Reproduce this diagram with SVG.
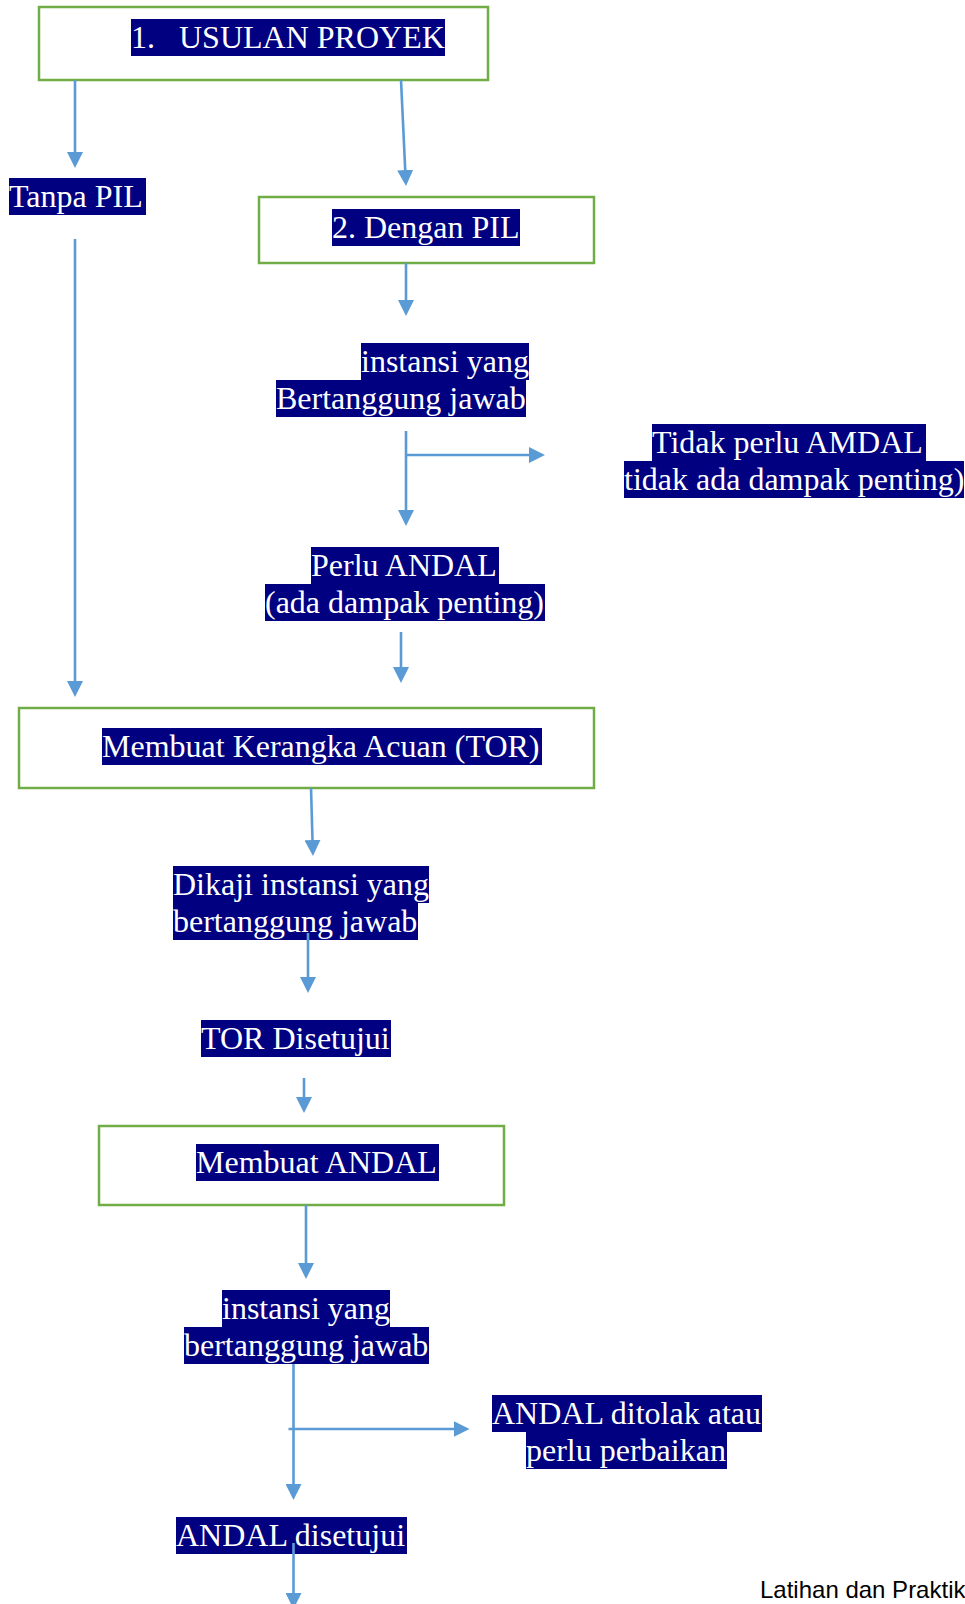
<svg xmlns="http://www.w3.org/2000/svg" width="965" height="1604" viewBox="0 0 965 1604">
  <style>
    .box { fill: #ffffff; stroke: #70AD47; stroke-width: 2.5; }
    .hl { fill: #000080; }
    .t { font-family: "Liberation Serif", "Times New Roman", serif; font-size: 32px; fill: #ffffff; }
    .wire { fill: none; stroke: #5B9BD5; stroke-width: 2.6; marker-end: url(#arrow); }
    .foot { font-family: "Liberation Sans", Arial, sans-serif; font-size: 24px; fill: #000000; }
  </style>
  <defs>
    <marker id="arrow" markerUnits="userSpaceOnUse" markerWidth="16" markerHeight="16" viewBox="0 0 16 16" refX="10" refY="8" orient="auto">
      <path d="M0,0 L16,8 L0,16 Z" fill="#5B9BD5"/>
    </marker>
  </defs>
  <rect width="965" height="1604" fill="#ffffff"/>

  <!-- step 1: project proposal -->
  <g id="usulan-proyek">
    <rect class="box" x="39" y="7" width="449" height="73"/>
    <rect class="hl" x="131" y="19" width="314" height="37"/>
    <text class="t" y="48"><tspan x="131">1.</tspan><tspan x="179">USULAN PROYEK</tspan></text>
  </g>

  <g id="tanpa-pil">
    <rect class="hl" x="9" y="178" width="137" height="37"/>
    <text class="t" x="9" y="207">Tanpa PIL</text>
  </g>

  <!-- step 2: with PIL -->
  <g id="dengan-pil">
    <rect class="box" x="259" y="197" width="335" height="66"/>
    <rect class="hl" x="332" y="209" width="188" height="37"/>
    <text class="t" x="332" y="238">2. Dengan PIL</text>
  </g>

  <g id="instansi-1">
    <rect class="hl" x="361" y="343" width="168" height="37"/>
    <rect class="hl" x="276" y="380" width="250" height="37"/>
    <text class="t" x="361" y="372">instansi yang</text>
    <text class="t" x="276" y="409">Bertanggung jawab</text>
  </g>

  <g id="tidak-perlu-amdal">
    <rect class="hl" x="652" y="424" width="274" height="37"/>
    <rect class="hl" x="624" y="461" width="340" height="37"/>
    <text class="t" x="652" y="453">Tidak perlu AMDAL</text>
    <text class="t" x="624" y="490">tidak ada dampak penting)</text>
  </g>

  <g id="perlu-andal">
    <rect class="hl" x="311" y="547" width="188" height="37"/>
    <rect class="hl" x="265" y="584" width="280" height="37"/>
    <text class="t" x="311" y="576">Perlu ANDAL</text>
    <text class="t" x="265" y="613">(ada dampak penting)</text>
  </g>

  <!-- terms of reference -->
  <g id="membuat-tor">
    <rect class="box" x="19" y="708" width="575" height="80"/>
    <rect class="hl" x="102" y="728" width="440" height="37"/>
    <text class="t" x="102" y="757">Membuat Kerangka Acuan (TOR)</text>
  </g>

  <g id="dikaji">
    <rect class="hl" x="173" y="866" width="256" height="37"/>
    <rect class="hl" x="173" y="903" width="245" height="37"/>
    <text class="t" x="173" y="895">Dikaji instansi yang</text>
    <text class="t" x="173" y="932">bertanggung jawab</text>
  </g>

  <g id="tor-disetujui">
    <rect class="hl" x="201" y="1020" width="190" height="37"/>
    <text class="t" x="201" y="1049">TOR Disetujui</text>
  </g>

  <!-- environmental impact analysis -->
  <g id="membuat-andal">
    <rect class="box" x="99" y="1126" width="405" height="79"/>
    <rect class="hl" x="196" y="1144" width="243" height="37"/>
    <text class="t" x="196" y="1173">Membuat ANDAL</text>
  </g>

  <g id="instansi-2">
    <rect class="hl" x="222" y="1290" width="168" height="37"/>
    <rect class="hl" x="184" y="1327" width="245" height="37"/>
    <text class="t" x="222" y="1319">instansi yang</text>
    <text class="t" x="184" y="1356">bertanggung jawab</text>
  </g>

  <g id="andal-ditolak">
    <rect class="hl" x="492" y="1395" width="270" height="37"/>
    <rect class="hl" x="526" y="1432" width="201" height="37"/>
    <text class="t" x="492" y="1424">ANDAL ditolak atau</text>
    <text class="t" x="526" y="1461">perlu perbaikan</text>
  </g>

  <g id="andal-disetujui">
    <rect class="hl" x="176" y="1517" width="231" height="37"/>
    <text class="t" x="176" y="1546">ANDAL disetujui</text>
  </g>

  <text class="foot" x="760" y="1598">Latihan dan Praktik</text>

  <!-- connectors -->
  <g id="connectors">
    <path class="wire" d="M75,80 V162"/>
    <path class="wire" d="M401,80 L405.7,180"/>
    <path class="wire" d="M75,239 V691"/>
    <path class="wire" d="M406,263 V310"/>
    <path class="wire" d="M406,431 V520"/>
    <path class="wire" d="M406,455 H539"/>
    <path class="wire" d="M401,632 V677"/>
    <path class="wire" d="M311,788 L312.8,850"/>
    <path class="wire" d="M308,933 V987"/>
    <path class="wire" d="M304,1078 V1107"/>
    <path class="wire" d="M306,1205 V1273"/>
    <path class="wire" d="M293.5,1364 V1494"/>
    <path class="wire" d="M288.5,1429 H463.5"/>
    <path class="wire" d="M293.5,1543 V1603"/>
  </g>
</svg>
